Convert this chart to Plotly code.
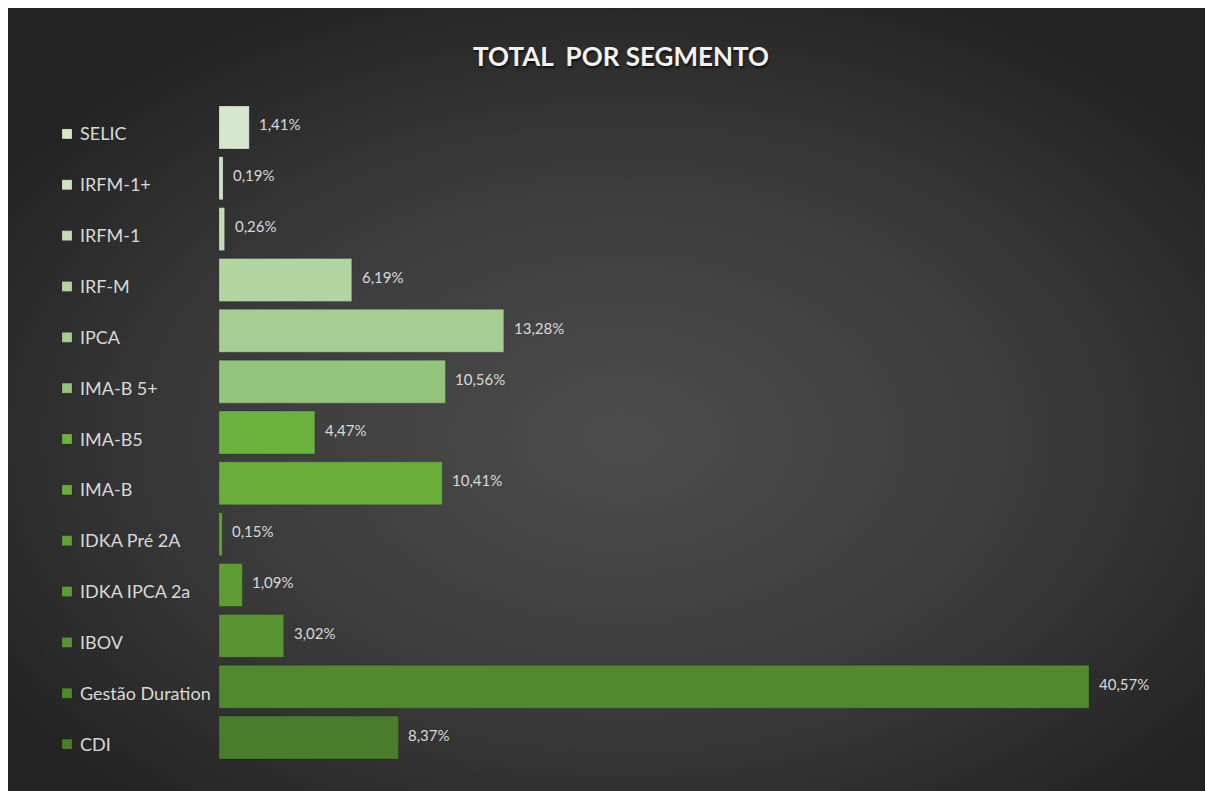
import base64
import plotly.graph_objects as go

# ---- data (top to bottom) ----
categories = ["SELIC", "IRFM-1+", "IRFM-1", "IRF-M", "IPCA", "IMA-B 5+", "IMA-B5",
              "IMA-B", "IDKA Pré 2A", "IDKA IPCA 2a", "IBOV", "Gestão Duration", "CDI"]
values = [1.41, 0.19, 0.26, 6.19, 13.28, 10.56, 4.47, 10.41, 0.15, 1.09, 3.02, 40.57, 8.37]
colors = ["#d5e7cd", "#cfe4c5", "#c4ddb8", "#b3d5a2", "#a6ce93", "#92c47b", "#6cb23e",
          "#69ad3b", "#62a236", "#5e9c34", "#5a9432", "#518a2e", "#4a7d2b"]
title_text = "TOTAL&nbsp; POR SEGMENTO"

# page body has an 8px margin, so the figure is sized to fit the 1213x791 window
W, H = 1205, 783
ML, MR, MT, MB = 211, 29, 94, 28
PW, PH = W - ML - MR, H - MT - MB
XMAX = 45.0
FONT = "Lato, 'Open Sans', sans-serif"

def fmt(v):
    return f"{v:.2f}".replace(".", ",") + "%"

fig = go.Figure()
fig.add_trace(go.Bar(
    y=categories, x=values, orientation="h",
    marker=dict(color=colors, line=dict(color="rgba(0,0,0,0.18)", width=1)),
    hoverinfo="skip", showlegend=False,
))

annotations = []
shapes = []
sq_x0 = (62 - 8 - ML) / PW
sq_x1 = (72 - 8 - ML) / PW
for i, (c, v, col) in enumerate(zip(categories, values, colors)):
    annotations.append(dict(
        x=v, y=c, xref="x", yref="y", text=fmt(v), showarrow=False,
        xanchor="left", yanchor="middle", xshift=8, yshift=3,
        font=dict(family=FONT, size=15, color="#d9d9d9"),
    ))
    annotations.append(dict(
        x=(78 - 8 - ML) / PW, y=c, xref="paper", yref="y", text=c, showarrow=False,
        xanchor="left", yanchor="middle", yshift=-6,
        font=dict(family=FONT, size=18, color="#d9d9d9"),
    ))
    shapes.append(dict(
        type="rect", xref="paper", yref="y", x0=sq_x0, x1=sq_x1,
        ysizemode="pixel", yanchor=i, y0=-11.5, y1=-1.5,
        fillcolor=col, line=dict(color="rgba(0,0,0,0.3)", width=0.5), layer="above",
    ))

# radial gradient background as an SVG image
svg = f'''<svg xmlns="http://www.w3.org/2000/svg" width="{W}" height="{H}" viewBox="0 0 {W} {H}" preserveAspectRatio="none">
<defs><radialGradient id="g" cx="51%" cy="55%" r="62%" fx="51%" fy="55%">
<stop offset="0%" stop-color="#4c4c4c"/><stop offset="50%" stop-color="#3d3d3d"/>
<stop offset="100%" stop-color="#232323"/></radialGradient></defs>
<rect width="{W}" height="{H}" fill="url(#g)"/></svg>'''
src = "data:image/svg+xml;base64," + base64.b64encode(svg.encode()).decode()

fig.update_layout(
    width=W, height=H,
    margin=dict(l=ML, r=MR, t=MT, b=MB, pad=0),
    paper_bgcolor="#262626", plot_bgcolor="rgba(0,0,0,0)",
    title=dict(text=f"<b>{title_text}</b>", x=(621 - 8) / W, xanchor="center",
               y=1 - (57 - 8) / H, yanchor="middle",
               font=dict(family=FONT, size=26, color="#f2f2f2",
                         shadow="1px 2px 2px #111111")),
    xaxis=dict(range=[0, XMAX], visible=False, fixedrange=True),
    yaxis=dict(categoryorder="array", categoryarray=categories,
               range=[len(categories) - 0.5, -0.5], showticklabels=False,
               showgrid=False, zeroline=False, showline=False, ticks=""),
    bargap=0.155,
    annotations=annotations,
    shapes=shapes,
    images=[dict(source=src, xref="paper", yref="paper",
                 x=-ML / PW, y=1 + MT / PH,
                 sizex=W / PW, sizey=H / PH, sizing="stretch",
                 xanchor="left", yanchor="top", layer="below")],
)

fig.write_html("out.html")
